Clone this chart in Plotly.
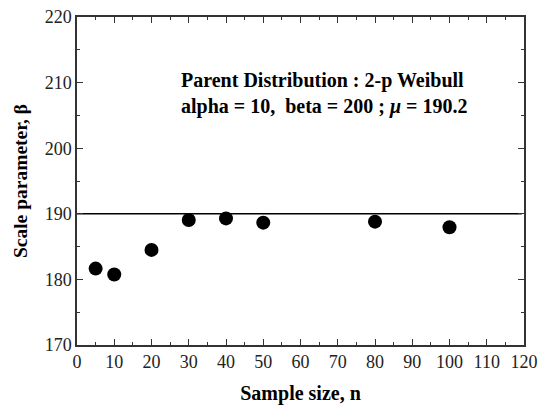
import plotly.graph_objects as go

sample_size = [5, 10, 20, 30, 40, 50, 80, 100]
scale_param = [181.65, 180.75, 184.5, 189.06, 189.3, 188.65, 188.8, 187.95]
mean_line_x = [0, 119.4]
mean_line_y = [190, 190]

FONT = "Liberation Serif"

fig = go.Figure()
fig.add_trace(go.Scatter(x=mean_line_x, y=mean_line_y, mode="lines",
                         line=dict(color="black", width=1.6), showlegend=False))
fig.add_trace(go.Scatter(x=sample_size, y=scale_param, mode="markers",
                         marker=dict(color="black", size=14), showlegend=False))

axis_common = dict(showline=True, linecolor="#333", linewidth=1.5, mirror="allticks",
                   ticks="inside", ticklen=6, tickwidth=1.3, tickcolor="#333",
                   showgrid=False, zeroline=False, automargin=False,
                   tickfont=dict(family=FONT, size=18, color="#222"))

fig.update_xaxes(range=[0, 120], dtick=10, tick0=0,
                 minor=dict(ticks="inside", dtick=5, ticklen=3.5, tickwidth=1.2, tickcolor="#333"),
                 title=dict(text="<b>Sample size, n</b>", font=dict(family=FONT, size=20, color="black"),
                            standoff=20),
                 **axis_common)
fig.update_yaxes(range=[170, 220], dtick=10, tick0=170,
                 minor=dict(ticks="inside", dtick=5, ticklen=3.5, tickwidth=1.2, tickcolor="#333"),
                 title=dict(text="<b>Scale parameter, β</b>", font=dict(family=FONT, size=19.5, color="black"),
                            standoff=12),
                 **axis_common)

fig.add_annotation(x=27.4, y=208.4, xref="x", yref="y", xanchor="left", yanchor="middle",
                   text="<b>Parent Distribution : 2-p Weibull<br>alpha = 10,  beta = 200 ; <i>μ</i> = 190.2</b>",
                   showarrow=False, align="left",
                   font=dict(family=FONT, size=20, color="black"))

fig.update_layout(width=546, height=405, margin=dict(l=77, r=22, t=17, b=60),
                  plot_bgcolor="white", paper_bgcolor="white")
fig.write_html("out.html")
